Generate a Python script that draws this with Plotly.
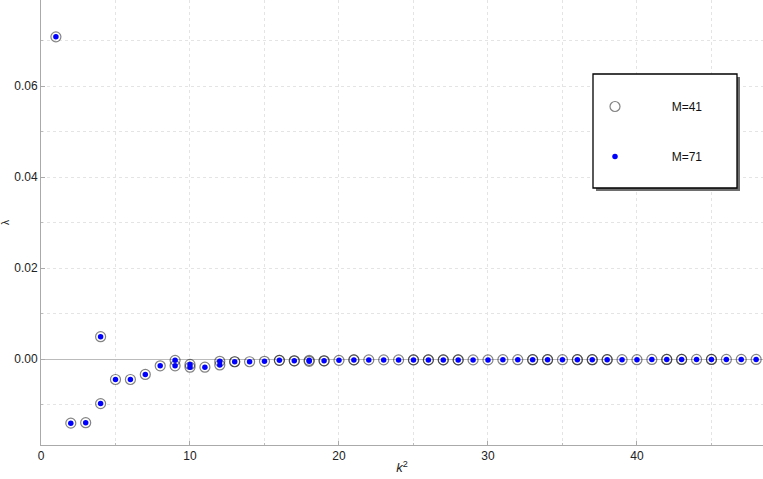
import plotly.graph_objects as go

# ---- data ----
k2_m41 = [1, 2, 3, 4, 4, 5, 6, 7, 8, 9, 9, 10, 10, 11, 12, 12, 13, 13, 14, 15,
          16, 16, 17, 17, 18, 18, 19, 19, 20, 21, 21, 22, 23, 24, 25, 25, 26, 26,
          27, 27, 28, 28, 29, 30, 31, 32, 33, 33, 34, 34, 35, 36, 36, 37, 37,
          38, 38, 39, 40, 41, 42, 42, 43, 43, 44, 45, 45, 46, 47, 48]
lam_m41 = [0.0708, -0.0141, -0.0140, 0.0049, -0.0098, -0.0045, -0.0045, -0.0034,
           -0.0015, -0.0003, -0.0015, -0.0012, -0.0018, -0.0018, -0.0005, -0.0013,
           -0.0006, -0.0006, -0.0006, -0.0005, -0.0003, -0.0003, -0.0004, -0.0004,
           -0.0003, -0.0005, -0.0004, -0.0004, -0.0003, -0.0002, -0.0002, -0.0002,
           -0.0002, -0.0002, -0.0002, -0.0002, -0.0002, -0.0002, -0.0002, -0.0002,
           -0.0002, -0.0002, -0.0002, -0.0002, -0.00015, -0.00015, -0.00015, -0.00015,
           -0.00015, -0.00015, -0.00015, -0.00015, -0.00015, -0.00015, -0.00015,
           -0.00015, -0.00015, -0.00015, -0.00015, -0.0001, -0.0001, -0.0001,
           -0.0001, -0.0001, -0.0001, -0.0001, -0.0001, -0.0001, -0.0001, -0.0001]

k2_m71 = [1, 2, 3, 4, 4, 5, 6, 7, 8, 9, 9, 10, 10, 11, 12, 12, 13, 14, 15, 16,
          17, 18, 18, 19, 20, 21, 22, 23, 24, 25, 26, 27, 28, 29, 30, 31, 32, 33,
          34, 35, 36, 37, 38, 39, 40, 41, 42, 43, 44, 45, 46, 47, 48]
lam_m71 = [0.0708, -0.0141, -0.0140, 0.0049, -0.0098, -0.0045, -0.0045, -0.0034,
           -0.0015, -0.0003, -0.0015, -0.0012, -0.0018, -0.0018, -0.0005, -0.0013,
           -0.0006, -0.0006, -0.0005, -0.0003, -0.0004, -0.0003, -0.0005, -0.0004,
           -0.0003, -0.0002, -0.0002, -0.0002, -0.0002, -0.0002, -0.0002, -0.0002,
           -0.0002, -0.0002, -0.0002, -0.00015, -0.00015, -0.00015, -0.00015,
           -0.00015, -0.00015, -0.00015, -0.00015, -0.00015, -0.00015, -0.0001,
           -0.0001, -0.0001, -0.0001, -0.0001, -0.0001, -0.0001, -0.0001]

series_names = ["M=41", "M=71"]
y_ticks = [0.00, 0.02, 0.04, 0.06]
x_ticks = [0, 10, 20, 30, 40]

FONT = "Liberation Sans, Arial, Helvetica, sans-serif"
pad = "\u00a0" * 11

fig = go.Figure()
fig.add_trace(go.Scatter(
    x=k2_m41, y=lam_m41, mode="markers", name=pad + series_names[0],
    legendgroup="a",
    marker=dict(symbol="circle-open", size=10, color="rgba(30,30,30,0.55)",
                line=dict(width=1.2))))
fig.add_trace(go.Scatter(
    x=k2_m71, y=lam_m71, mode="markers", name=pad + series_names[1],
    legendgroup="b",
    marker=dict(symbol="circle", size=5.5, color="rgb(0,0,255)")))

W, H = 763, 479
L, R, T, B = 41, 0, 0, 34
pw, ph = W - L - R, H - T - B

def px_x(p):
    return (p - L) / pw

def px_y(p):
    return 1 - (p - T) / ph

shapes = [
    # legend shadow
    dict(type="rect", xref="paper", yref="paper",
         x0=px_x(596), x1=px_x(740), y0=px_y(191), y1=px_y(77),
         fillcolor="rgb(110,110,110)", line=dict(width=0), layer="above"),
    # legend box
    dict(type="rect", xref="paper", yref="paper",
         x0=px_x(593), x1=px_x(737), y0=px_y(188), y1=px_y(74),
         fillcolor="white", line=dict(color="black", width=1.3), layer="above"),
]

grid_col = "rgb(228,228,228)"
gdash = "3px,3px"
fig.update_layout(
    width=W, height=H,
    margin=dict(l=L, r=R, t=T, b=B, pad=0),
    paper_bgcolor="white", plot_bgcolor="white",
    font=dict(family=FONT, size=12, color="#222"),
    shapes=shapes,
    showlegend=True,
    legend=dict(x=px_x(595), y=px_y(92), xanchor="left", yanchor="top",
                bgcolor="rgba(0,0,0,0)", borderwidth=0,
                tracegroupgap=31, traceorder="grouped",
                font=dict(family=FONT, size=12, color="#111")),
    xaxis=dict(
        range=[0, 48.46], tickvals=x_ticks, ticks="inside", ticklen=4,
        tickcolor="#aaa", showline=True, linecolor="#aaa", linewidth=1,
        showgrid=True, gridcolor=grid_col, griddash=gdash, gridwidth=1,
        zeroline=False, automargin=False,
        minor=dict(dtick=5, tick0=0, showgrid=True, gridcolor=grid_col,
                   griddash=gdash, ticks="inside", ticklen=2, tickcolor="#bbb"),
        tickfont=dict(size=12, color="#222"),
        title=dict(text="<i>k</i><sup>2</sup>", font=dict(size=13, color="#222"),
                   standoff=0),
    ),
    yaxis=dict(
        range=[-0.0189, 0.0789], tickvals=y_ticks, tickformat=".2f",
        ticks="inside", ticklen=4, tickcolor="#aaa",
        showline=True, linecolor="#aaa", linewidth=1,
        showgrid=True, gridcolor=grid_col, griddash=gdash, gridwidth=1,
        zeroline=True, zerolinecolor="#bbb", zerolinewidth=1,
        automargin=False,
        minor=dict(dtick=0.01, tick0=0, showgrid=True, gridcolor=grid_col,
                   griddash=gdash, ticks="inside", ticklen=2, tickcolor="#bbb"),
        tickfont=dict(size=12, color="#222"),
        title=dict(text="λ", font=dict(size=10, color="#222"), standoff=4),
    ),
)

fig.write_html("out.html",
               config={"displayModeBar": False},
               post_script="document.body.style.margin='0px';"
                           "document.body.style.overflow='hidden';")
